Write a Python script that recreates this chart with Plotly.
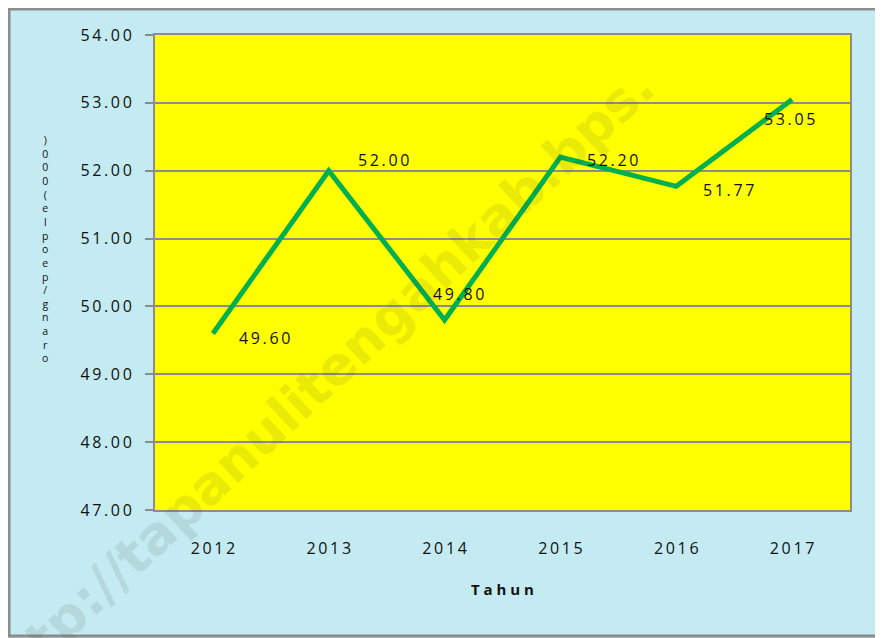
import plotly.graph_objects as go

tahun = ["2012", "2013", "2014", "2015", "2016", "2017"]
nilai = [49.60, 52.00, 49.80, 52.20, 51.77, 53.05]
y_ticks = [47, 48, 49, 50, 51, 52, 53, 54]
y_title = "orang/people(000)"

def spaced(s, sp="\u2009"):
    return sp.join(list(s))

fig = go.Figure()
fig.add_trace(go.Scatter(x=list(range(len(tahun))), y=nilai, mode="lines",
                         line=dict(color="#00B050", width=5),
                         hoverinfo="y", showlegend=False))

# watermark
fig.add_annotation(x=0.232, y=0.265, xref="paper", yref="paper",
                   xanchor="center", yanchor="middle",
                   text="<b>http://tapanulitengahkab.bps.</b>", showarrow=False,
                   textangle=-43, font=dict(family="DejaVu Sans", size=53,
                                            color="rgba(60,60,60,0.11)"))

# posisi label data (seperti di gambar, tidak seragam)
offsets = [(52, -4), (55, 11), (14, 26), (52, -3), (52, -4), (-3, -20)]
for i, (v, (dx, dy)) in enumerate(zip(nilai, offsets)):
    fig.add_annotation(x=i, y=v, text=spaced(f"{v:.2f}"), showarrow=False,
                       xshift=dx, yshift=dy,
                       font=dict(family="Open Sans", size=16, color="#111111"))

# judul sumbu y (huruf ditumpuk terbalik)
fig.add_annotation(x=-0.158, y=0.55, xref="paper", yref="paper",
                   xanchor="center", yanchor="middle",
                   text="<br>".join(list(y_title[::-1])), showarrow=False,
                   align="center",
                   font=dict(family="Open Sans", size=10.5, color="#111111"))

fig.add_shape(type="rect", xref="paper", yref="paper",
              x0=(1 - 147) / 695, x1=(873 - 147) / 695,
              y0=(502 - 628) / 475, y1=(502 - 1) / 475,
              line=dict(color="#8c8c8c", width=3))

fig.update_xaxes(range=[-0.5, 5.5],
                 tickvals=list(range(len(tahun))), ticktext=[spaced(t) for t in tahun],
                 showgrid=False, showline=True, linecolor="#8c8c8c",
                 linewidth=2, mirror=True, ticks="", ticklabelstandoff=23,
                 zeroline=False,
                 tickfont=dict(family="Open Sans", size=16, color="#111111"),
                 title=dict(text="<b>" + spaced("Tahun", " ") + "</b>", standoff=26,
                            font=dict(family="Open Sans", size=15, color="#111111")))
fig.update_yaxes(range=[47, 54], tickvals=y_ticks,
                 ticktext=[spaced(f"{t:.2f}") for t in y_ticks],
                 showgrid=True, gridcolor="#8c8c8c", gridwidth=2,
                 showline=True, linecolor="#8c8c8c", linewidth=2, mirror=True,
                 ticks="outside", ticklen=8, tickcolor="#8c8c8c", tickwidth=2,
                 ticklabelstandoff=10, zeroline=False,
                 tickfont=dict(family="Open Sans", size=16, color="#111111"))

fig.update_layout(width=875, height=630,
                  margin=dict(l=147, r=33, t=27, b=128),
                  plot_bgcolor="#FFFF00", paper_bgcolor="#C4EBF1")

fig.write_html("out.html")
